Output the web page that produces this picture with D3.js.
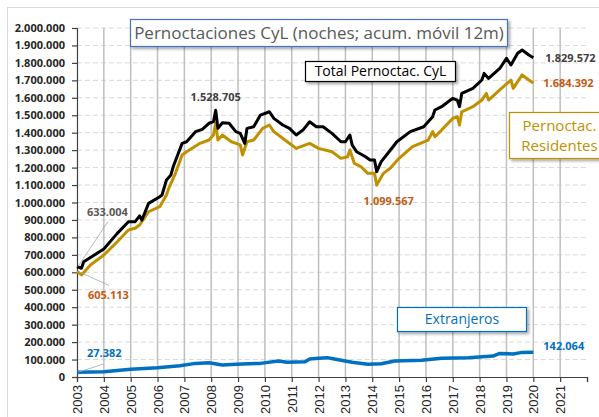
<!DOCTYPE html>
<html>
<head>
<meta charset="utf-8">
<script src="https://cdn.jsdelivr.net/npm/d3@7"></script>
<style>
  body { margin: 0; background: #fff; }
  svg { font-family: "Open Sans", "Noto Sans", sans-serif; }
</style>
</head>
<body>
<div id="chart"></div>
<script>
// pernoctaciones, acumulado movil 12 meses (miles de noches)
var fechasTotal = ["2003-01","2003-03","2003-04","2004-01","2004-07","2004-12","2005-03","2005-05","2005-06","2005-09",
  "2006-02","2006-03","2006-05","2006-07","2006-08","2006-12","2007-02","2007-06","2007-09","2007-12",
  "2008-02","2008-03","2008-04","2008-06","2008-09","2008-12","2009-02","2009-04","2009-05","2009-08",
  "2009-11","2010-03","2010-05","2010-09","2010-12","2011-03","2011-06","2011-09","2011-12","2012-03",
  "2012-07","2012-11","2013-01","2013-03","2013-04","2013-06","2013-10","2013-12","2014-02","2014-03",
  "2014-05","2014-08","2014-12","2015-06","2015-12","2016-04","2016-05","2016-08","2017-01","2017-03",
  "2017-04","2017-05","2017-10","2018-02","2018-03","2018-05","2018-10","2019-01","2019-03","2019-06",
  "2019-08","2019-11","2020-01"];
var total = [633.004,623,661,733,823,890,890,923,900,995,
  1033,1043,1129,1158,1205,1339,1348,1406,1419,1454,
  1463,1528.705,1425,1457,1454,1406,1396,1339,1425,1434,
  1501,1520,1482,1444,1425,1387,1415,1463,1434,1434,
  1396,1348,1348,1387,1330,1291,1262,1244,1244,1177,
  1234,1282,1348,1406,1434,1492,1530,1549,1597,1587,
  1549,1625,1654,1702,1740,1711,1768,1826,1788,1855,
  1874,1845,1829.572];

var fechasResid = ["2003-01","2003-03","2003-07","2004-01","2004-07","2004-12","2005-03","2005-05","2005-09","2006-02",
  "2006-05","2006-06","2006-09","2006-12","2007-02","2007-08","2007-12","2008-02","2008-03","2008-04",
  "2008-06","2008-10","2009-02","2009-03","2009-05","2009-08","2009-12","2010-03","2010-05","2010-11",
  "2011-03","2011-09","2012-01","2012-07","2012-11","2013-02","2013-03","2013-05","2013-08","2013-11",
  "2014-02","2014-03","2014-06","2014-09","2015-01","2015-07","2016-02","2016-04","2016-05","2016-08",
  "2017-01","2017-03","2017-04","2017-05","2017-10","2018-02","2018-04","2018-05","2018-10","2019-03",
  "2019-04","2019-08","2019-11","2020-01"];
var residentes = [605.113,585,642,699,775,842,852,871,947,976,
  1043,1081,1167,1272,1291,1339,1358,1387,1454,1358,
  1387,1348,1330,1272,1348,1358,1425,1444,1406,1348,
  1310,1339,1310,1291,1253,1262,1301,1224,1205,1167,
  1167,1099.567,1167,1196,1253,1320,1358,1406,1377,1415,
  1482,1492,1444,1520,1549,1587,1625,1587,1645,1702,
  1654,1731,1702,1684.392];

var fechasExtr = ["2003-01","2004-01","2005-01","2006-01","2006-11","2007-06","2007-12","2008-06","2008-12","2009-11",
  "2010-07","2010-11","2011-07","2011-09","2012-01","2012-05","2012-08","2013-04","2013-11","2014-05",
  "2014-11","2015-11","2016-08","2017-08","2018-07","2018-10","2019-04","2019-08","2020-01"];
var extranjeros = [27.382,30,44,53,65,78,82,69,73,78,
  92,84,88,103,107,111,103,84,73,76,
  92,96,107,111,120,135,132,141,142.064];

var yTicks = d3.range(0, 2000001, 100000);
var xTicks = d3.range(2003, 2022);

var W = 599, H = 417;
var margin = {left: 77, right: 12, top: 28, bottom: 40};

var loc = d3.formatLocale({decimal: ",", thousands: ".", grouping: [3], currency: ["", ""]});
var fmt = loc.format(",d");

function toYear(s) {
  var p = s.split("-");
  return +p[0] + (+p[1] - 1) / 12;
}
function serie(fechas, vals) {
  return fechas.map(function(f, i) { return {x: toYear(f), y: vals[i] * 1000}; });
}

var svg = d3.select("#chart").append("svg")
  .attr("width", W).attr("height", H);

var defs = svg.append("defs");
var sh = defs.append("filter").attr("id", "sombra")
  .attr("x", "-10%").attr("y", "-20%").attr("width", "130%").attr("height", "160%");
sh.append("feDropShadow").attr("dx", 2).attr("dy", 2).attr("stdDeviation", 1.5)
  .attr("flood-color", "#000").attr("flood-opacity", 0.35);

// marco del grafico
svg.append("rect").attr("x", 7.5).attr("y", 7.5).attr("width", W).attr("height", H)
  .attr("fill", "none").attr("stroke", "#d9d9d9");

var x = d3.scaleLinear().domain([2003, 2022]).range([margin.left, W - margin.right]);
var y = d3.scaleLinear().domain([0, 2000000]).range([H - margin.bottom, margin.top]);

// rejilla horizontal
svg.append("g").selectAll("line").data(yTicks.slice(1)).enter().append("line")
  .attr("x1", x(2003)).attr("x2", x(2022))
  .attr("y1", function(d) { return y(d); }).attr("y2", function(d) { return y(d); })
  .attr("stroke", "#d9d9d9").attr("stroke-dasharray", "5,3");

// rejilla vertical
svg.append("g").selectAll("line").data(xTicks.slice(1)).enter().append("line")
  .attr("x1", function(d) { return x(d); }).attr("x2", function(d) { return x(d); })
  .attr("y1", y(2000000)).attr("y2", y(0))
  .attr("stroke", "#bfbfbf").attr("stroke-width", 1.5);

// ejes
var yAxis = svg.append("g").attr("transform", "translate(" + x(2003) + ",0)")
  .call(d3.axisLeft(y).tickValues(yTicks).tickFormat(fmt).tickSize(5).tickPadding(7));
yAxis.selectAll("text").attr("font-size", "11px").attr("font-weight", "bold")
  .attr("fill", "#262626").attr("font-family", "'Open Sans', sans-serif");

var xAxis = svg.append("g").attr("transform", "translate(0," + y(0) + ")")
  .call(d3.axisBottom(x).tickValues(d3.range(2003, 2023)).tickFormat(function(d) { return d < 2022 ? d : ""; }).tickSize(5));
xAxis.selectAll("text")
  .attr("transform", "rotate(-90)")
  .attr("text-anchor", "end")
  .attr("x", -8).attr("y", 0).attr("dy", "0.35em")
  .attr("font-size", "13px").attr("fill", "#262626");
svg.selectAll(".domain, .tick line").attr("stroke", "#404040").attr("stroke-width", 1.2);

// lineas
var line = d3.line().x(function(d) { return x(d.x); }).y(function(d) { return y(d.y); });
var sT = serie(fechasTotal, total), sR = serie(fechasResid, residentes), sE = serie(fechasExtr, extranjeros);

svg.append("path").datum(sE).attr("d", line).attr("fill", "none")
  .attr("stroke", "#0070c0").attr("stroke-width", 3.5).attr("stroke-linejoin", "round");
svg.append("path").datum(sR).attr("d", line).attr("fill", "none")
  .attr("stroke", "#bf9000").attr("stroke-width", 3).attr("stroke-linejoin", "round");
svg.append("path").datum(sT).attr("d", line).attr("fill", "none")
  .attr("stroke", "#000").attr("stroke-width", 3).attr("stroke-linejoin", "round");

// etiquetas de datos
function etiqueta(p, dx, dy, color, anchor) {
  svg.append("text").attr("x", x(p.x) + dx).attr("y", y(p.y) + dy)
    .attr("text-anchor", anchor || "start").attr("font-size", "11px").attr("font-weight", "bold")
    .attr("fill", color).text(fmt(Math.round(p.y)));
}
function guia(p, x2, y2) {
  svg.append("line").attr("x1", x(p.x) + 1).attr("y1", y(p.y)).attr("x2", x2).attr("y2", y2)
    .attr("stroke", "#a6a6a6").attr("stroke-width", 0.8);
}
var pT0 = sT[0], pR0 = sR[0], pE0 = sE[0];
guia(pT0, x(pT0.x) + 31, y(pT0.y) - 45);
guia(pR0, x(pR0.x) + 32, y(pR0.y) + 14);
guia(pE0, x(pE0.x) + 26, y(pE0.y) - 8);
etiqueta(pT0, 10, -51, "#595959");
etiqueta(pR0, 11, 28, "#c55a11");
etiqueta(pE0, 10, -15, "#0070c0");

var maxT = sT[d3.maxIndex(sT.slice(0, 40), function(d) { return d.y; })];
etiqueta(maxT, 0, -9, "#404040", "middle");
var minR = sR[d3.minIndex(sR.slice(30, 50), function(d) { return d.y; }) + 30];
etiqueta(minR, 12, 20, "#c55a11", "middle");

etiqueta(sT[sT.length - 1], 12, 4, "#404040");
etiqueta(sR[sR.length - 1], 10, 4, "#c55a11");
etiqueta(sE[sE.length - 1], 10, -2, "#0070c0");

// cuadros de texto
function cuadro(x0, y0, w, h, borde, color, lineas, fs) {
  var g = svg.append("g");
  g.append("rect").attr("x", x0).attr("y", y0).attr("width", w).attr("height", h)
    .attr("fill", "#fff").attr("stroke", borde).attr("stroke-width", 1.2)
    .attr("filter", "url(#sombra)");
  lineas.forEach(function(t, i) {
    g.append("text").attr("x", x0 + w / 2)
      .attr("y", y0 + h / 2 + (i - (lineas.length - 1) / 2) * fs * 1.35)
      .attr("dy", "0.35em").attr("text-anchor", "middle")
      .attr("font-size", fs + "px").attr("fill", color).text(t);
  });
}
cuadro(130.5, 19.5, 377, 27, "#4472c4", "#595959", ["Pernoctaciones CyL (noches; acum. móvil 12m)"], 17);
cuadro(305.5, 61.5, 150, 20, "#000", "#000", ["Total Pernoctac. CyL"], 14);
cuadro(509.5, 112.5, 100, 46, "#bf9000", "#bf9000", ["Pernoctac.", "Residentes"], 15);
cuadro(397.5, 307.5, 129, 24, "#0070c0", "#0070c0", ["Extranjeros"], 14);
</script>
</body>
</html>
